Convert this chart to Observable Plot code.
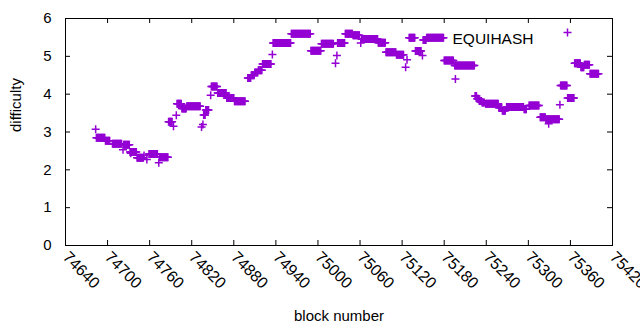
<!DOCTYPE html>
<html>
<head>
<meta charset="utf-8">
<script src="https://cdn.jsdelivr.net/npm/d3@7"></script>
<script src="https://cdn.jsdelivr.net/npm/@observablehq/plot@0.6"></script>
<style>
  html, body { margin: 0; padding: 0; background: #fff; }
  svg { display: block; }
</style>
</head>
<body>
<div id="chart"></div>
<script>
// Runs of blocks sharing one difficulty value (single points have start == end)
const runStart = [74683,74684,74697,74707,74722,74723,74732,74733,74742,74752,74756,74759,74773,74774,74787,74794,74798,74799,74806,74813,74834,74836,74837,74840,74847,74848,74857,74870,74881,74900,74905,74910,74915,74921,74935,74936,74962,74990,75005,75025,75027,75028,75039,75050,75061,75062,75086,75097,75112,75125,75127,75130,75139,75149,75150,75155,75180,75195,75196,75224,75227,75230,75234,75239,75258,75263,75269,75294,75301,75317,75325,75329,75345,75346,75356,75366,75375,75380,75388];
const runEnd   = [74683,74696,74703,74720,74722,74731,74741,74733,74751,74752,74756,74771,74773,74786,74792,74794,74798,74805,74812,74832,74834,74836,74839,74844,74847,74856,74869,74880,74896,74904,74909,74914,74920,74933,74935,74961,74989,75004,75022,75025,75027,75038,75049,75059,75061,75085,75096,75111,75122,75125,75127,75138,75147,75149,75154,75179,75193,75223,75196,75226,75229,75233,75237,75257,75262,75267,75293,75297,75315,75324,75344,75329,75345,75355,75365,75374,75379,75387,75400];
const runDifficulty = [3.07,2.85,2.77,2.69,2.53,2.66,2.47,2.44,2.32,2.38,2.27,2.42,2.19,2.33,3.27,3.15,3.44,3.75,3.62,3.68,3.13,3.2,3.45,3.58,3.97,4.2,4.03,3.9,3.81,4.43,4.5,4.57,4.63,4.8,5.05,5.35,5.6,5.15,5.33,4.82,5.02,5.35,5.6,5.56,5.35,5.46,5.36,5.11,5.04,4.71,4.91,5.49,5.14,5.02,5.43,5.49,4.89,4.76,4.4,3.95,3.88,3.82,3.78,3.75,3.64,3.56,3.66,3.6,3.7,3.39,3.34,3.22,3.72,4.23,3.9,4.82,4.71,4.78,4.54];

const xTicks = [74640,74700,74760,74820,74880,74940,75000,75060,75120,75180,75240,75300,75360,75420];
const yTicks = [0,1,2,3,4,5,6];
const seriesName = ["EQUIHASH"];
const xLabel = ["block number"];
const yLabel = ["difficulty"];

// Table of points: one per block in each run
const points = [];
runStart.forEach((s, i) => {
  for (let b = s; b <= runEnd[i]; b++) points.push({block: b, difficulty: runDifficulty[i]});
});

const color = "#9400d3";
const font = "'Liberation Sans', Arial, sans-serif";
const W = 640, H = 330, mL = 65, mR = 28, mT = 18, mB = 85;
const plotW = W - mL - mR, plotH = H - mT - mB, tk = 5;

// gnuplot-style thin "+" point
const cross = {
  draw(ctx, size) {
    const r = Math.sqrt(size / Math.PI);
    ctx.moveTo(-r, 0); ctx.lineTo(r, 0);
    ctx.moveTo(0, -r); ctx.lineTo(0, r);
  }
};

const chart = Plot.plot({
  width: W, height: H,
  marginLeft: mL, marginRight: mR, marginTop: mT, marginBottom: mB,
  style: {fontFamily: font, fontSize: "15px", color: "#000", background: "#fff"},
  x: {domain: [74640, 75420]},
  y: {domain: [0, 6]},
  marks: [
    Plot.tickX(xTicks, {x: d => d, insetTop: plotH - tk, stroke: "#000"}),
    Plot.tickX(xTicks, {x: d => d, insetBottom: plotH - tk, stroke: "#000"}),
    Plot.tickY(yTicks, {y: d => d, insetRight: plotW - tk, stroke: "#000"}),
    Plot.tickY(yTicks, {y: d => d, insetLeft: plotW - tk, stroke: "#000"}),
    Plot.axisY(yTicks, {anchor: "left", tickSize: 0, tickPadding: 14, label: null, fontSize: 15, fill: "#000", tickFormat: d => String(d)}),
    Plot.axisX(xTicks, {anchor: "bottom", tickSize: 0, tickPadding: 9, tickRotate: 45, textAnchor: "start", label: null, fontSize: 16, fill: "#000", tickFormat: d => String(d)}),
    Plot.dot(points, {x: "block", y: "difficulty", symbol: cross, r: 4, stroke: color, strokeWidth: 1.5, fill: "none"}),
    Plot.frame({stroke: "#000"}),
    Plot.text(seriesName, {frameAnchor: "top-right", dx: -79, dy: 14, textAnchor: "end", fontSize: 15.5, fill: "#000"}),
    Plot.dot(seriesName, {frameAnchor: "top-right", dx: -45, dy: 14, symbol: cross, r: 4, stroke: color, strokeWidth: 1.5, fill: "none"}),
    Plot.text(xLabel, {frameAnchor: "bottom", dy: 75, fontSize: 15, fill: "#000"}),
    Plot.text(yLabel, {frameAnchor: "left", dx: -49, rotate: -90, fontSize: 15, fill: "#000"})
  ]
});
document.getElementById("chart").appendChild(chart);
</script>
</body>
</html>
